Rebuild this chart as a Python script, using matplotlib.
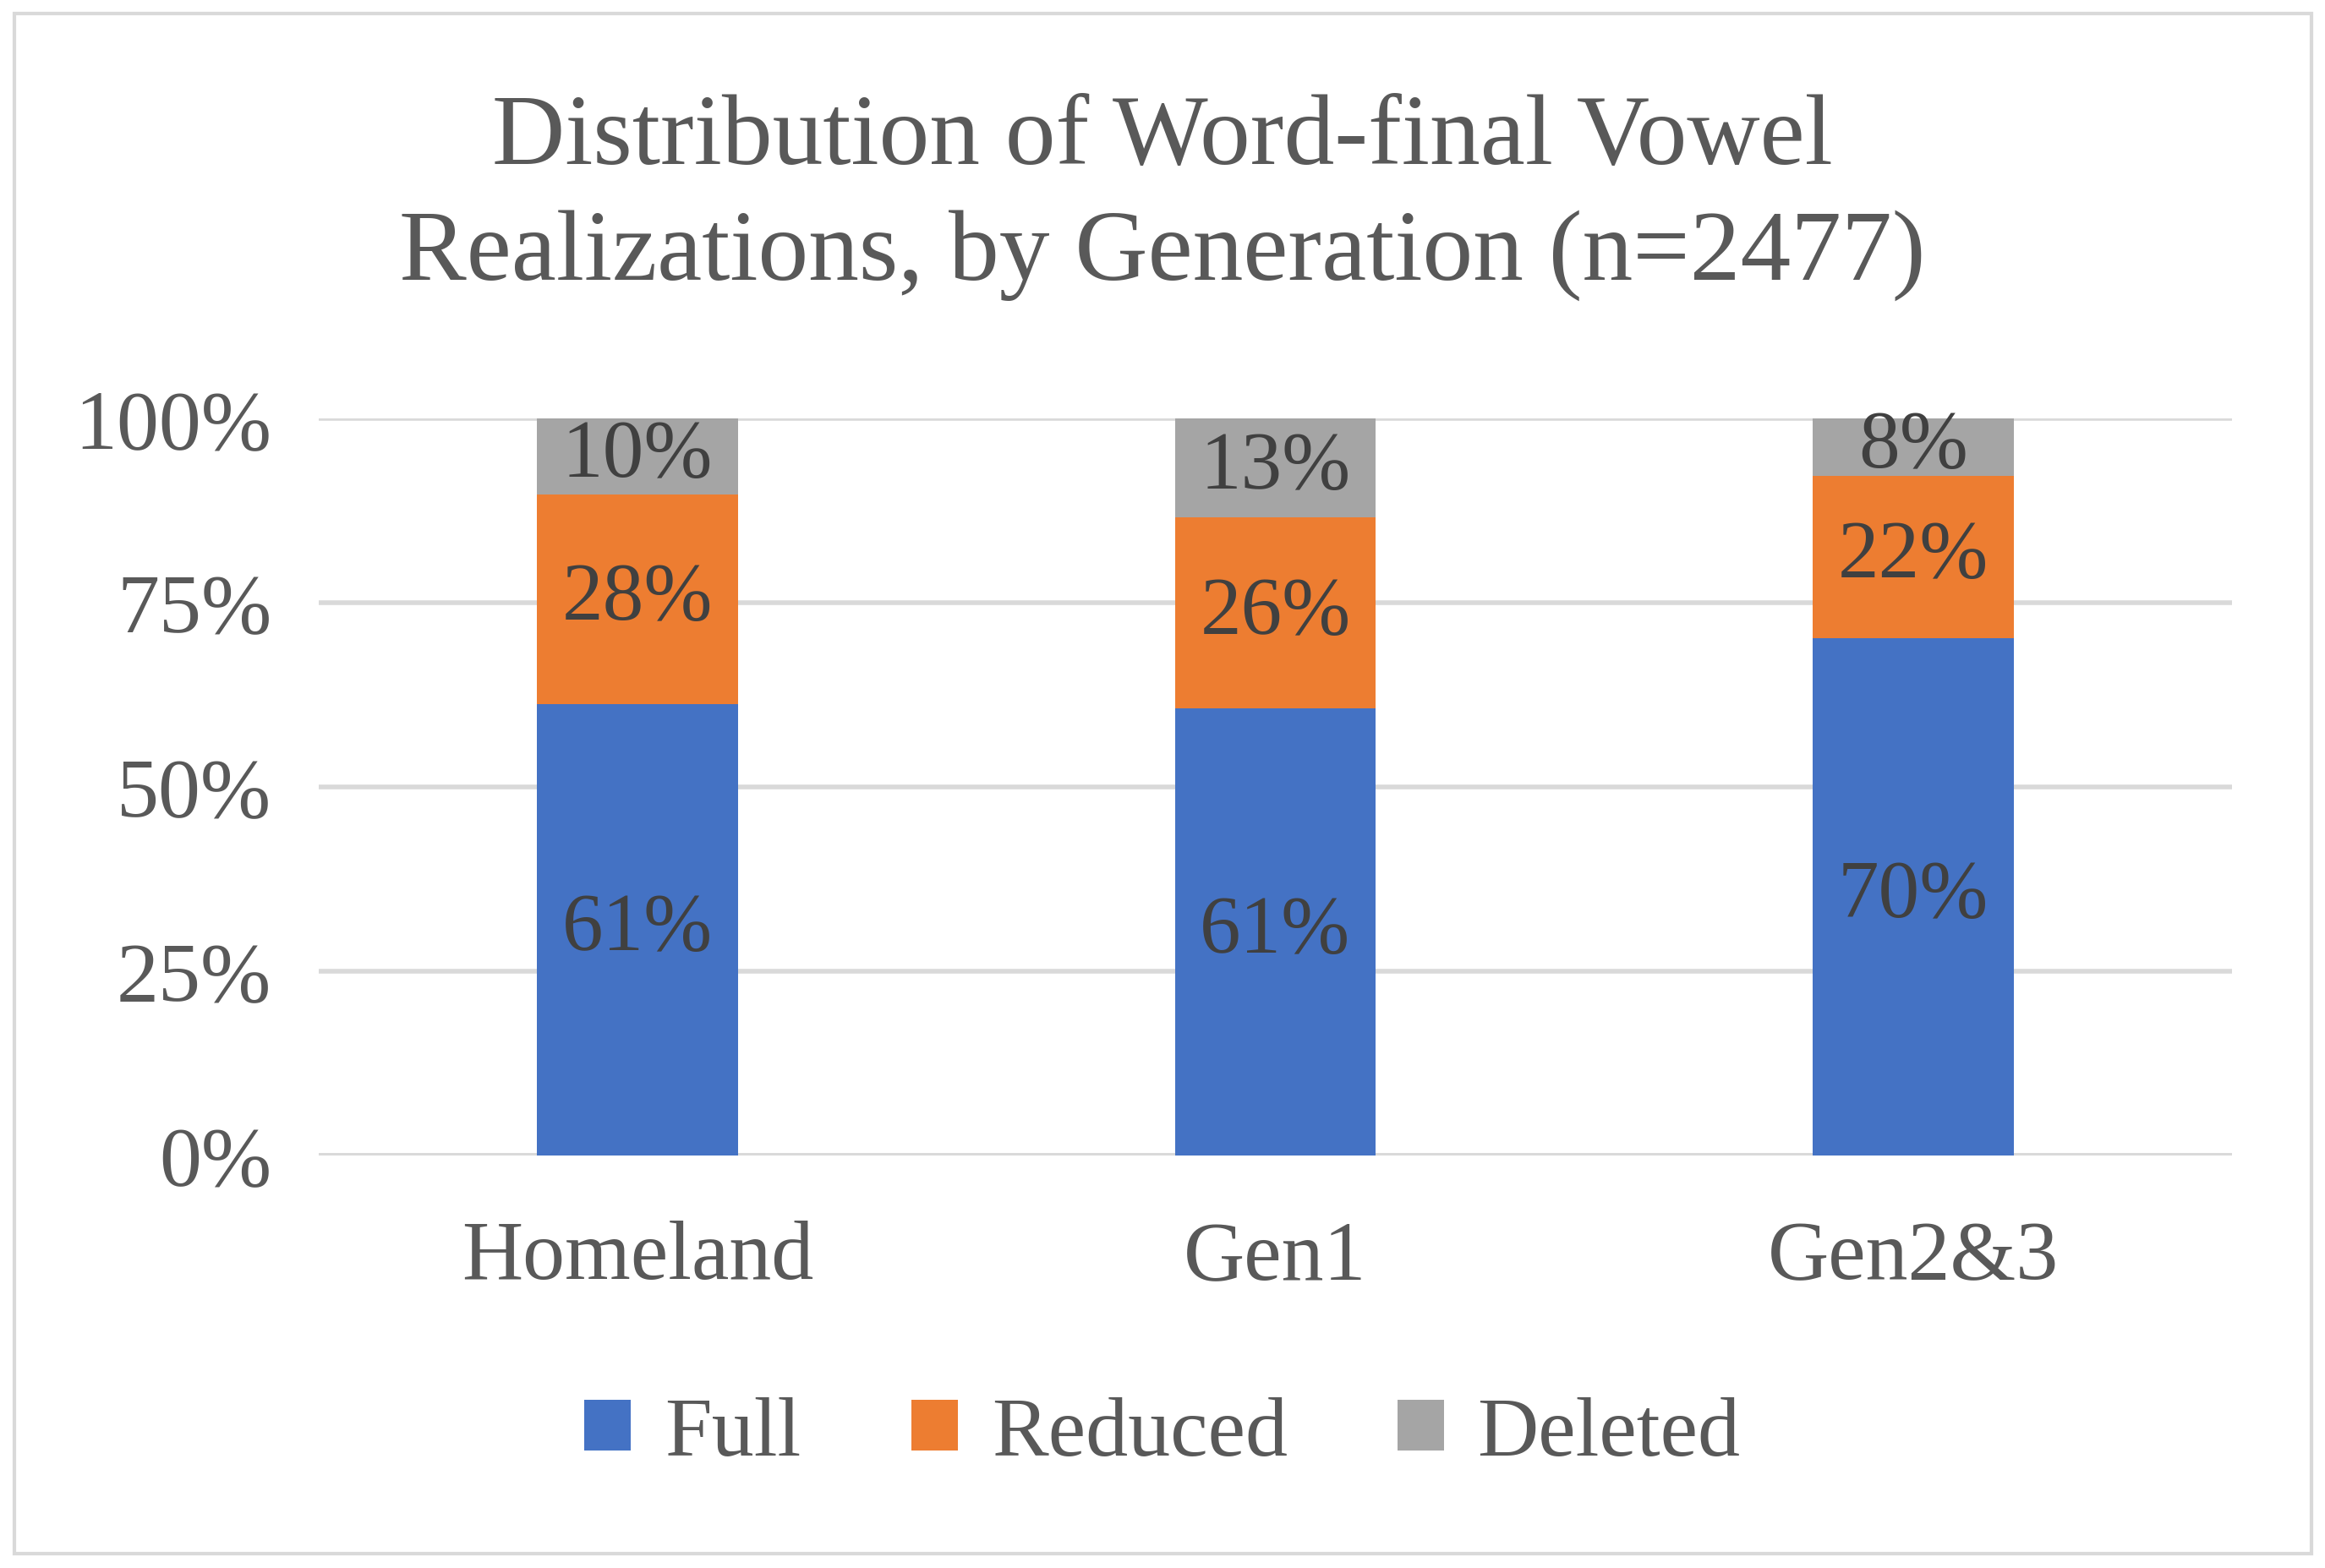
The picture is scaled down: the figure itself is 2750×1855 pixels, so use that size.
import matplotlib
matplotlib.use("Agg")
import matplotlib.pyplot as plt
from matplotlib.patches import Rectangle

categories = ["Homeland", "Gen1", "Gen2&3"]
full = [61.2, 60.6, 70.1]
reduced = [28.4, 25.9, 22.1]
deleted = [10.4, 13.5, 7.8]
labels_full = ["61%", "61%", "70%"]
labels_reduced = ["28%", "26%", "22%"]
labels_deleted = ["10%", "13%", "8%"]

plt.rcParams['font.family'] = ['Liberation Serif', 'DejaVu Serif']
tc = '#595959'
fig = plt.figure(figsize=(27.5, 18.56), dpi=100)
fig.patches.append(Rectangle((0.006, 0.009), 0.988, 0.982, transform=fig.transFigure,
                             fill=False, edgecolor='#d9d9d9', linewidth=3))
ax = fig.add_axes([0.137, 0.263, 0.823, 0.47])
x = range(len(categories))
w = 0.315
b1 = ax.bar(x, full, w, color='#4472C4', label='Full', zorder=3)
b2 = ax.bar(x, reduced, w, bottom=full, color='#ED7D31', label='Reduced', zorder=3)
bot3 = [a + b for a, b in zip(full, reduced)]
b3 = ax.bar(x, deleted, w, bottom=bot3, color='#A5A5A5', label='Deleted', zorder=3)
for bars, labs in ((b1, labels_full), (b2, labels_reduced), (b3, labels_deleted)):
    ax.bar_label(bars, labels=labs, label_type='center', fontsize=70, color='#404040')
ax.set_ylim(0, 100)
ax.set_xlim(-0.5, 2.5)
ax.set_yticks([0, 25, 50, 75, 100])
ax.set_yticklabels(["0%", "25%", "50%", "75%", "100%"], fontsize=72, color=tc)
ax.set_xticks(list(x))
ax.set_xticklabels(categories, fontsize=72, color=tc)
ax.tick_params(length=0, pad=40)
ax.tick_params(axis='x', pad=55)
ax.grid(axis='y', color='#d9d9d9', linewidth=4, zorder=0)
for s in ax.spines.values():
    s.set_visible(False)
ax.axhline(0, color='#d9d9d9', linewidth=4, zorder=1)
fig.suptitle("Distribution of Word-final Vowel\nRealizations, by Generation (n=2477)",
             y=0.94, fontsize=86, color=tc, linespacing=1.35)
fig.legend(handles=[b1, b2, b3], loc='center', bbox_to_anchor=(0.5, 0.085), ncol=3,
           frameon=False, fontsize=72, labelcolor=tc, handlelength=0.55, handleheight=0.55,
           columnspacing=1.3, handletextpad=0.4)
fig.savefig("out.png", dpi=100)
